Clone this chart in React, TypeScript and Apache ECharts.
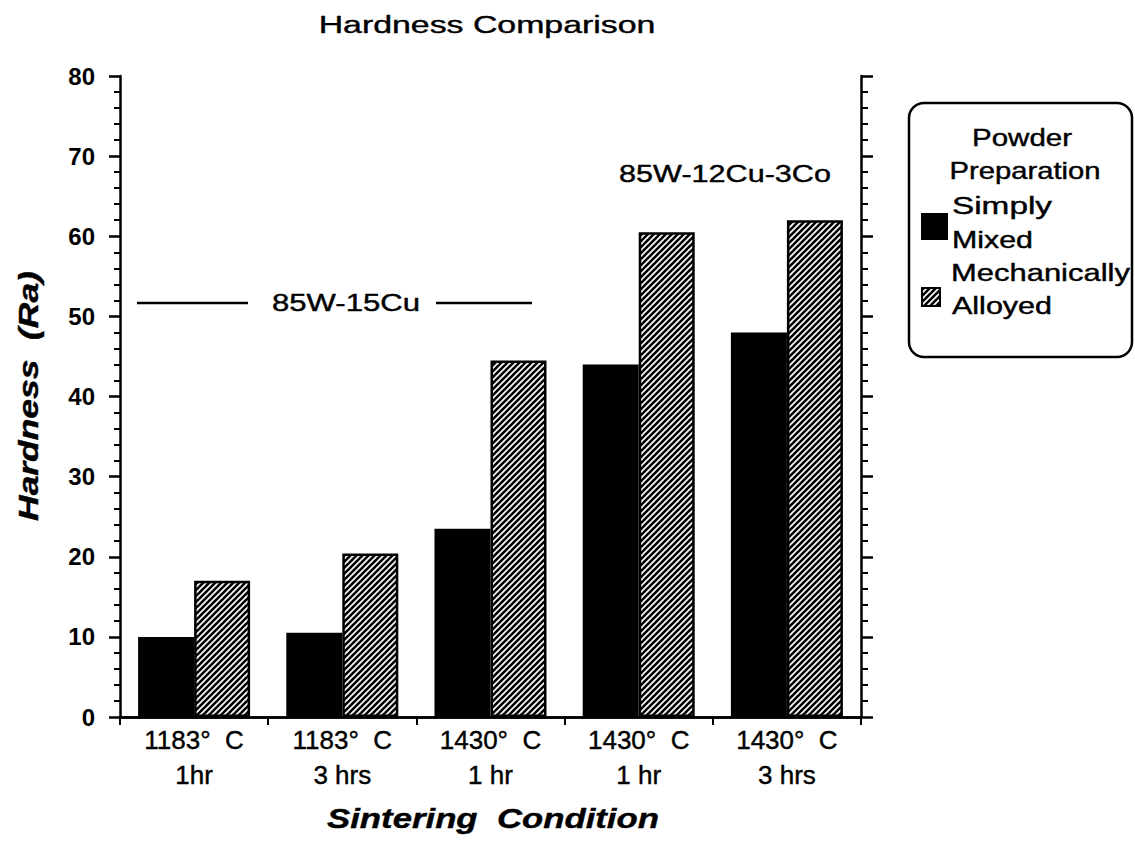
import React, { useEffect, useRef } from "react";
import * as echarts from "echarts";

const categories = ["1183°  C\n1hr", "1183°  C\n3 hrs", "1430°  C\n1 hr", "1430°  C\n1 hr", "1430°  C\n3 hrs"];
const simplyMixed = [10, 10.5, 23.5, 44, 48];
const mechanicallyAlloyed = [17, 20.4, 44.5, 60.5, 62];
const seriesNames = ["Simply Mixed", "Mechanically Alloyed"];
const yMin = 0;
const yMax = 80;
const yInterval = 10;

const FONT = "'Liberation Sans', Arial, Helvetica, sans-serif";

function makeHatch(): string {
  const s = 6;
  const c = document.createElement("canvas");
  c.width = s;
  c.height = s;
  const ctx = c.getContext("2d")!;
  ctx.fillStyle = "#fff";
  ctx.fillRect(0, 0, s, s);
  ctx.strokeStyle = "#000";
  ctx.lineWidth = 2.6;
  for (const k of [0, s, 2 * s]) {
    ctx.beginPath();
    ctx.moveTo(-2, k + 2);
    ctx.lineTo(k + 2, -2);
    ctx.stroke();
  }
  return c.toDataURL();
}

let measureCtx: CanvasRenderingContext2D | null = null;
function fit(text: string, font: string, target: number): number {
  if (!measureCtx) measureCtx = document.createElement("canvas").getContext("2d");
  measureCtx!.font = font;
  const w = measureCtx!.measureText(text).width;
  return w > 0 ? target / w : 1;
}

function txt(
  text: string,
  x: number,
  y: number,
  size: number,
  target: number,
  opts: { weight?: string; style?: string; align?: string; rotation?: number } = {}
) {
  const weight = opts.weight || "normal";
  const fstyle = opts.style || "normal";
  const font = `${fstyle} ${weight} ${size}px ${FONT}`;
  return {
    type: "text",
    x,
    y,
    rotation: opts.rotation || 0,
    scaleX: fit(text, font, target),
    style: {
      text,
      fontSize: size,
      fontFamily: FONT,
      fontWeight: weight,
      fontStyle: fstyle,
      fill: "#000",
      stroke: "#000",
      lineWidth: 0.4,
      textAlign: opts.align || "center",
      textVerticalAlign: "middle",
    },
  };
}

export default function App() {
  const ref = useRef<HTMLDivElement>(null);
  useEffect(() => {
    document.body.style.margin = "0";
    if (!ref.current) return;
    const chart = echarts.init(ref.current, null, { renderer: "svg" });
    const hatch = makeHatch();
    const hatchFill: any = { image: hatch, repeat: "repeat", imageWidth: 6, imageHeight: 6 };

    const axisLineStyle = { color: "#000", width: 2.5 };

    chart.setOption({
      animation: false,
      backgroundColor: "#fff",
      grid: { left: 120, right: 274, top: 76, bottom: 124 },
      xAxis: [
        {
          type: "category",
          data: categories,
          position: "bottom",
          axisLine: { show: true, lineStyle: axisLineStyle },
          axisTick: { show: true, length: 8, alignWithLabel: false, lineStyle: { color: "#000", width: 2 } },
          axisLabel: {
            interval: 0,
            color: "#000",
            fontFamily: FONT,
            fontSize: 26,
            lineHeight: 35,
            margin: 5,
            textBorderColor: "#000",
            textBorderWidth: 0.4,
          },
          splitLine: { show: false },
        },
        {
          type: "category",
          data: categories,
          position: "top",
          axisLine: { show: true, lineStyle: axisLineStyle },
          axisTick: { show: false },
          axisLabel: { show: false },
          splitLine: { show: false },
        },
      ],
      yAxis: [
        {
          type: "value",
          min: yMin,
          max: yMax,
          interval: yInterval,
          position: "left",
          axisLine: { show: true, lineStyle: axisLineStyle },
          axisTick: { show: true, length: 11, lineStyle: { color: "#000", width: 2.5 } },
          minorTick: { show: true, splitNumber: 5, length: 6, lineStyle: { color: "#000", width: 2 } },
          splitLine: { show: false },
          minorSplitLine: { show: false },
          axisLabel: {
            color: "#000",
            fontFamily: FONT,
            fontWeight: "bold",
            fontSize: 24,
            margin: 25,
          },
        },
        {
          type: "value",
          min: yMin,
          max: yMax,
          interval: yInterval,
          position: "right",
          axisLine: { show: true, lineStyle: axisLineStyle },
          axisTick: { show: true, length: 12, lineStyle: { color: "#000", width: 2.5 } },
          minorTick: { show: true, splitNumber: 5, length: 7, lineStyle: { color: "#000", width: 2 } },
          splitLine: { show: false },
          minorSplitLine: { show: false },
          axisLabel: { show: false },
        },
      ],
      series: [
        {
          type: "bar",
          name: seriesNames[0],
          data: simplyMixed,
          barWidth: 56,
          barGap: "0%",
          itemStyle: { color: "#000" },
        },
        {
          type: "bar",
          name: seriesNames[1],
          data: mechanicallyAlloyed,
          barWidth: 56,
          barGap: "0%",
          itemStyle: { color: hatchFill, borderColor: "#000", borderWidth: 2.5 },
        },
      ],
      graphic: {
        elements: [
          txt("Hardness Comparison", 487, 24, 24, 337),
          txt("Hardness  (Ra)", 28, 396, 28, 250, { weight: "bold", style: "italic", rotation: Math.PI / 2 }),
          txt("Sintering  Condition", 493, 818, 28, 332, { weight: "bold", style: "italic" }),
          txt("85W-15Cu", 346, 303, 23, 148),
          { type: "line", shape: { x1: 137, y1: 303, x2: 248, y2: 303 }, style: { stroke: "#000", lineWidth: 2.5 } },
          { type: "line", shape: { x1: 436, y1: 303, x2: 532, y2: 303 }, style: { stroke: "#000", lineWidth: 2.5 } },
          txt("85W-12Cu-3Co", 725, 174, 23, 212),
          {
            type: "rect",
            shape: { x: 909, y: 103, width: 223, height: 254, r: 15 },
            style: { fill: "none", stroke: "#000", lineWidth: 2.5 },
          },
          txt("Powder", 1022, 138, 23, 100),
          txt("Preparation", 1025, 171, 23, 151),
          { type: "rect", shape: { x: 921, y: 213, width: 27, height: 27 }, style: { fill: "#000" } },
          txt("Simply", 952, 206, 23, 100, { align: "left" }),
          txt("Mixed", 952, 240, 23, 81, { align: "left" }),
          {
            type: "rect",
            shape: { x: 922, y: 288, width: 18, height: 18 },
            style: { fill: hatchFill, stroke: "#000", lineWidth: 2 },
          },
          txt("Mechanically", 951, 273, 23, 179, { align: "left" }),
          txt("Alloyed", 952, 306, 23, 100, { align: "left" }),
        ],
      },
    });
    return () => chart.dispose();
  }, []);
  return <div ref={ref} style={{ width: 1135, height: 841 }} />;
}
